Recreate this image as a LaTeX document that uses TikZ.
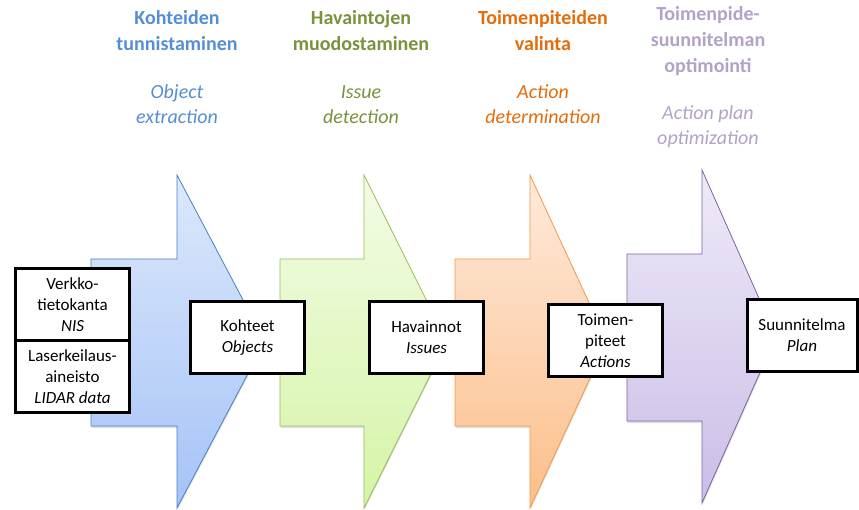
\documentclass[tikz,border=0pt]{standalone}
\usepackage{fontspec}
\setmainfont{Carlito}
\usetikzlibrary{positioning,shadows}

\definecolor{txtblue}{HTML}{558ED5}
\definecolor{txtgreen}{HTML}{77933C}
\definecolor{txtorange}{HTML}{E46C0A}
\definecolor{txtpurple}{HTML}{B3A2C7}
\definecolor{topblue}{HTML}{DDE8FB}
\definecolor{botblue}{HTML}{A5C3F7}
\definecolor{lineblue}{HTML}{4A7EC6}
\definecolor{topgreen}{HTML}{F3FCE6}
\definecolor{botgreen}{HTML}{D5F4A6}
\definecolor{linegreen}{HTML}{9BBB59}
\definecolor{toporange}{HTML}{FEEADC}
\definecolor{botorange}{HTML}{FCBF8A}
\definecolor{lineorange}{HTML}{F79646}
\definecolor{toppurple}{HTML}{EFEAF8}
\definecolor{botpurple}{HTML}{CBBDE7}
\definecolor{linepurple}{HTML}{8064A2}

\begin{document}
\begin{tikzpicture}[x=1pt,y=-1pt,
    databox/.style={draw,line width=3pt,fill=white,minimum width=114pt,minimum height=72pt,
      inner sep=0pt,outer sep=0pt,align=center,font=\fontsize{17}{21}\selectfont},
    stagename/.style={align=center,font=\fontsize{20}{26}\selectfont\bfseries},
    stageeng/.style={align=center,font=\fontsize{20}{25}\selectfont\itshape},
    stagearrow/.style={line width=0.8pt,
      drop shadow={opacity=0.25,shadow xshift=0.5pt,shadow yshift=-2pt}}]
  \useasboundingbox (0,0) rectangle (859,510);

  % the four stage arrows
  \foreach \l/\s/\t/\dy/\c in {91/177/265/0/blue, 280/364/447/0/green,
      455/530/607/0/orange, 627/702/776/5/purple}
    \draw[stagearrow,draw=line\c,top color=top\c,bottom color=bot\c]
      (\l,259-\dy) -- (\s,259-\dy) -- (\s,175-\dy) -- (\t,341.5-\dy)
      -- (\s,508-\dy) -- (\s,426-\dy) -- (\l,426-\dy) -- cycle;

  % stage titles
  \node[stagename,text=txtblue] (name1) at (177,31) {Kohteiden\\tunnistaminen};
  \node[stageeng,text=txtblue] (eng1) at (177,104.5) {Object\\extraction};
  \node[stagename,text=txtgreen] (name2) at (361,31) {Havaintojen\\muodostaminen};
  \node[stageeng,text=txtgreen] (eng2) at (361,104.5) {Issue\\detection};
  \node[stagename,text=txtorange] (name3) at (543,31) {Toimenpiteiden\\valinta};
  \node[stageeng,text=txtorange] (eng3) at (543,104) {Action\\determination};
  \node[stagename,text=txtpurple] (name4) at (708,41.5) {Toimenpide-\\suunnitelman\\optimointi};
  \node[stageeng,text=txtpurple] (eng4) at (708,126.5) {Action plan\\optimization};

  % data boxes
  \node[databox] (nis) at (72.5,304.5) {Verkko-\\tietokanta\\\textit{NIS}};
  \node[databox,below=0pt of nis] (lidar) {Laserkeilaus-\\aineisto\\\textit{LIDAR data}};
  \node[databox] (objects) at (247.5,337.5) {Kohteet\\\textit{Objects}};
  \node[databox] (issues) at (426.5,337.5) {Havainnot\\\textit{Issues}};
  \node[databox] (actions) at (605.5,340.5) {Toimen-\\piteet\\\textit{Actions}};
  \node[databox,minimum width=110pt] (plan) at (802,335.5) {Suunnitelma\\\textit{Plan}};
\end{tikzpicture}
\end{document}
